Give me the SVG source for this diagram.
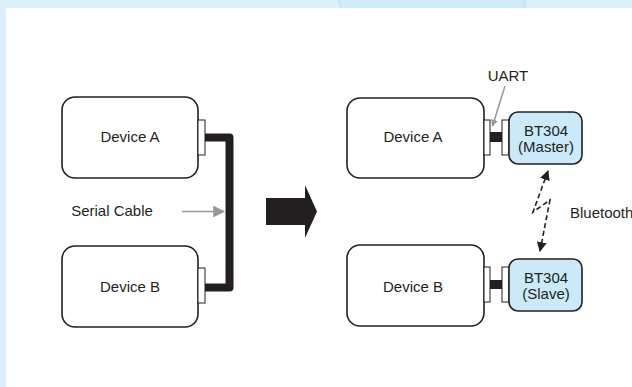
<svg xmlns="http://www.w3.org/2000/svg" width="632" height="387" viewBox="0 0 632 387">
<style>
.dev{fill:#fff;stroke:#231f20;stroke-width:1.6}
.bt{fill:#cbe9f9;stroke:#231f20;stroke-width:1.6}
.port{fill:#fff;stroke:#231f20;stroke-width:1}
.lbl{font-family:"Liberation Sans",Arial,sans-serif;font-size:15px;fill:#231f20;text-anchor:middle}
.cable{fill:none;stroke:#231f20;stroke-width:8;stroke-linejoin:round}
.gray{stroke:#999;stroke-width:1.6;fill:none}
.dash{stroke:#231f20;stroke-width:1.6;fill:none;stroke-dasharray:5,3}
</style>
<defs>
<marker id="ga" viewBox="0 0 10 10" refX="9" refY="5" markerWidth="7" markerHeight="8" markerUnits="userSpaceOnUse" orient="auto">
<path d="M0,0 L10,5 L0,10 Z" fill="#999"/>
</marker>
<marker id="ga2" viewBox="0 0 10 10" refX="9" refY="5" markerWidth="12" markerHeight="13" markerUnits="userSpaceOnUse" orient="auto">
<path d="M0,0 L10,5 L0,10 Z" fill="#999"/>
</marker>
<marker id="ba" viewBox="0 0 10 10" refX="9" refY="5" markerWidth="10" markerHeight="10" markerUnits="userSpaceOnUse" orient="auto-start-reverse">
<path d="M0,0 L10,5 L0,10 Z" fill="#231f20"/>
</marker>
</defs>
<rect x="0" y="0" width="632" height="387" fill="#fff"/>
<g id="frame">
<rect x="0" y="0" width="632" height="8" fill="#dcf0fb"/>
<rect x="0" y="0" width="6" height="387" fill="#dcf0fb"/>
<path d="M338,0 L525,0 L525,8 L341,8 Z" fill="#cdebf9"/>
<path d="M338,0 L341,8 M525,0 L525,8" stroke="#a8dbf2" stroke-width="0.8"/>
</g>
<g id="left-device-a">
<rect class="dev" x="62" y="97" width="136" height="81" rx="13"/>
<rect class="port" x="198" y="120" width="7" height="35"/>
<text class="lbl" x="130" y="142">Device A</text>
</g>
<g id="left-device-b">
<rect class="dev" x="62" y="246" width="136" height="81" rx="13"/>
<rect class="port" x="198" y="268" width="7" height="35"/>
<text class="lbl" x="130" y="292">Device B</text>
</g>
<g id="connectors">
<path class="cable" d="M205,137.5 L229.5,137.5 L229.5,287.5 L205,287.5"/>
<text class="lbl" x="112" y="216">Serial Cable</text>
<line class="gray" x1="182" y1="211.5" x2="224" y2="211.5" marker-end="url(#ga2)"/>
<path d="M266,198 L305,198 L305,185 L317,211.5 L305,238 L305,225 L266,225 Z" fill="#231f20"/>
<rect x="490" y="132" width="12" height="10" fill="#231f20"/>
<rect x="490" y="280" width="12" height="9" fill="#231f20"/>
<line class="gray" x1="505" y1="86" x2="492.5" y2="126" marker-end="url(#ga)"/>
<path class="dash" d="M548,171 L533,212 L550,200 L540,251" marker-start="url(#ba)" marker-end="url(#ba)"/>
</g>
<g id="right-device-a">
<rect class="dev" x="347" y="98" width="137" height="80" rx="13"/>
<rect class="port" x="484" y="120" width="6" height="35"/>
<text class="lbl" x="413" y="142">Device A</text>
</g>
<g id="bt-master">
<rect class="port" x="502" y="120" width="7" height="35"/>
<rect class="bt" x="509" y="112" width="73" height="52" rx="9"/>
<text class="lbl" x="546" y="136">BT304</text>
<text class="lbl" x="546" y="152">(Master)</text>
</g>
<g id="right-device-b">
<rect class="dev" x="347" y="245" width="137" height="81" rx="13"/>
<rect class="port" x="484" y="267" width="6" height="35"/>
<text class="lbl" x="413" y="292">Device B</text>
</g>
<g id="bt-slave">
<rect class="port" x="502" y="267" width="7" height="35"/>
<rect class="bt" x="509" y="259" width="73" height="52" rx="9"/>
<text class="lbl" x="546" y="283">BT304</text>
<text class="lbl" x="546" y="299">(Slave)</text>
</g>
<g id="labels">
<text class="lbl" x="508" y="81">UART</text>
<text class="lbl" x="570" y="218" style="text-anchor:start">Bluetooth</text>
</g>
</svg>
